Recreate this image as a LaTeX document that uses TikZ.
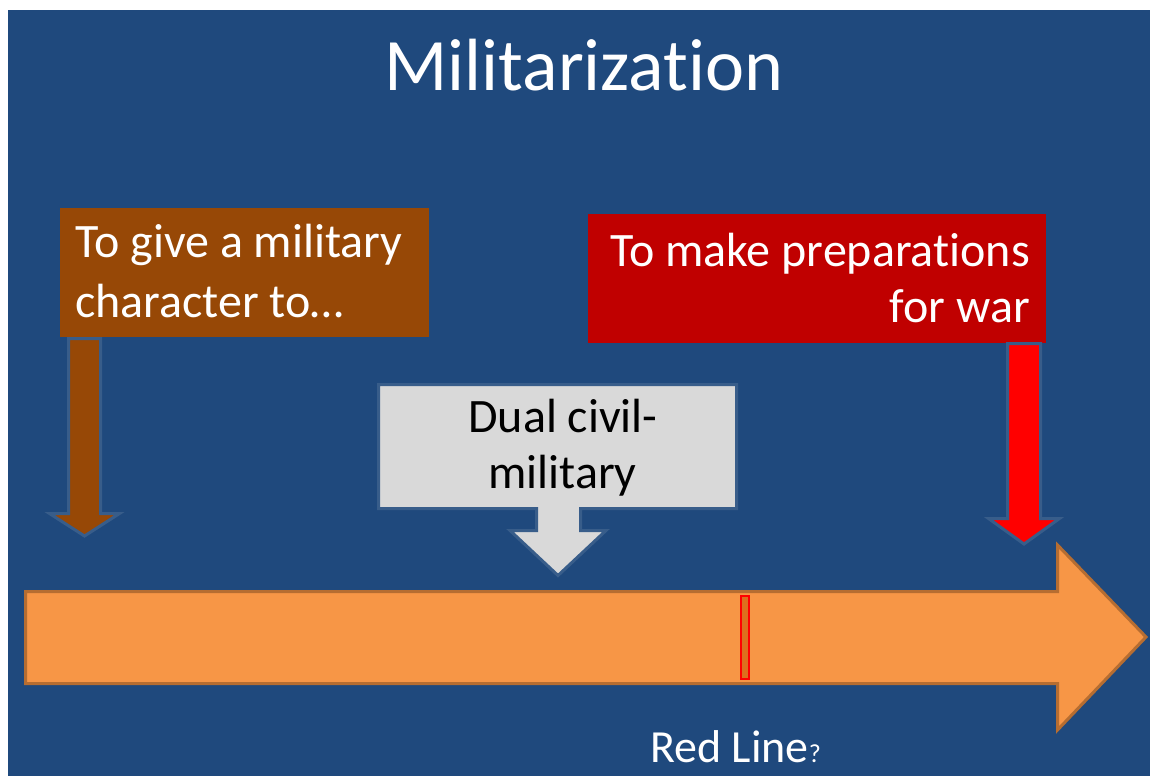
\documentclass[tikz,border=0pt]{standalone}
\usepackage{fontspec}
\setmainfont[Ligatures=NoCommon]{Carlito}
\definecolor{bgblue}{RGB}{31,73,125}
\definecolor{bordblue}{RGB}{56,93,138}
\definecolor{orangebar}{RGB}{247,150,70}
\definecolor{orangeline}{RGB}{182,109,49}
\definecolor{brownc}{RGB}{151,72,6}
\definecolor{darkredc}{RGB}{192,0,0}
\definecolor{redc}{RGB}{255,0,0}
\definecolor{grayc}{RGB}{217,217,217}
\definecolor{markerc}{RGB}{222,110,30}
\newcommand\txtbig{\fontsize{48}{56}\selectfont}
\newcommand\tinolig{t\kern0pt i}
\begin{document}
\begin{tikzpicture}[x=1pt,y=-1pt,
  plainbox/.style={draw=none, inner sep=0pt, anchor=north west},
  blockarrow/.style={draw=bordblue, line width=3pt, line join=miter},
  wtext/.style={text=white, inner sep=0pt, font=\txtbig},
  btext/.style={text=black, inner sep=0pt, font=\txtbig}]
\useasboundingbox (0,0) rectangle (1150,776);
\fill[white] (0,0) rectangle (1150,776);
\fill[bgblue] (8,10) rectangle (1150,776);

% title
\node[text=white, inner sep=0pt, anchor=base, font=\fontsize{74}{80}\selectfont] (title) at (584,90) {Militariza\tinolig on};

% timeline arrow
\draw[fill=orangebar, draw=orangeline, line width=3pt, line join=miter]
  (25.5,591.5) -- (1057.5,591.5) -- (1057.5,545) -- (1146,637) -- (1057.5,730) -- (1057.5,683.5) -- (25.5,683.5) -- cycle;
\node[plainbox, fill=markerc, draw=redc, line width=2pt, minimum width=8pt, minimum height=83pt] (marker) at (740,595) {};

% brown box and arrow
\node[plainbox, fill=brownc, minimum width=369pt, minimum height=129pt] (bbox) at (60,208) {};
\node[wtext, anchor=base west] (b1) at (75,257) {To give a military};
\node[wtext, anchor=base west] (b2) at (75,317) {character to…};
\draw[blockarrow, fill=brownc]
  (68.5,338.5) -- (100.5,338.5) -- (100.5,513.5) -- (119.5,513.5) -- (84.5,536) -- (49.5,513.5) -- (68.5,513.5) -- cycle;

% red box and arrow
\node[plainbox, fill=darkredc, minimum width=458pt, minimum height=129pt] (rbox) at (588,214) {};
\node[wtext, anchor=base east] (r1) at (1030,266) {To make prepara\tinolig ons};
\node[wtext, anchor=base east] (r2) at (1030,322) {for war};
\draw[blockarrow, fill=redc]
  (1007.5,343.5) -- (1040.5,343.5) -- (1040.5,518.5) -- (1059.5,518.5) -- (1024,544) -- (988.5,518.5) -- (1007.5,518.5) -- cycle;

% dual callout
\draw[blockarrow, fill=grayc]
  (378.5,384.5) -- (736.5,384.5) -- (736.5,508.5) -- (580.5,508.5) -- (580.5,530.5) -- (606,530.5) -- (558,575.5) -- (510,530.5) -- (536.5,530.5) -- (536.5,508.5) -- (378.5,508.5) -- cycle;
\node[btext, anchor=base] (d1) at (563,432) {Dual civil-};
\node[btext, anchor=base] (d2) at (562.5,488) {military};

% red line label
\node[text=white, inner sep=0pt, anchor=base west, font=\fontsize{46}{52}\selectfont] (rl) at (650,762) {Red Line{\fontsize{26}{30}\selectfont ?}};
\end{tikzpicture}
\end{document}
